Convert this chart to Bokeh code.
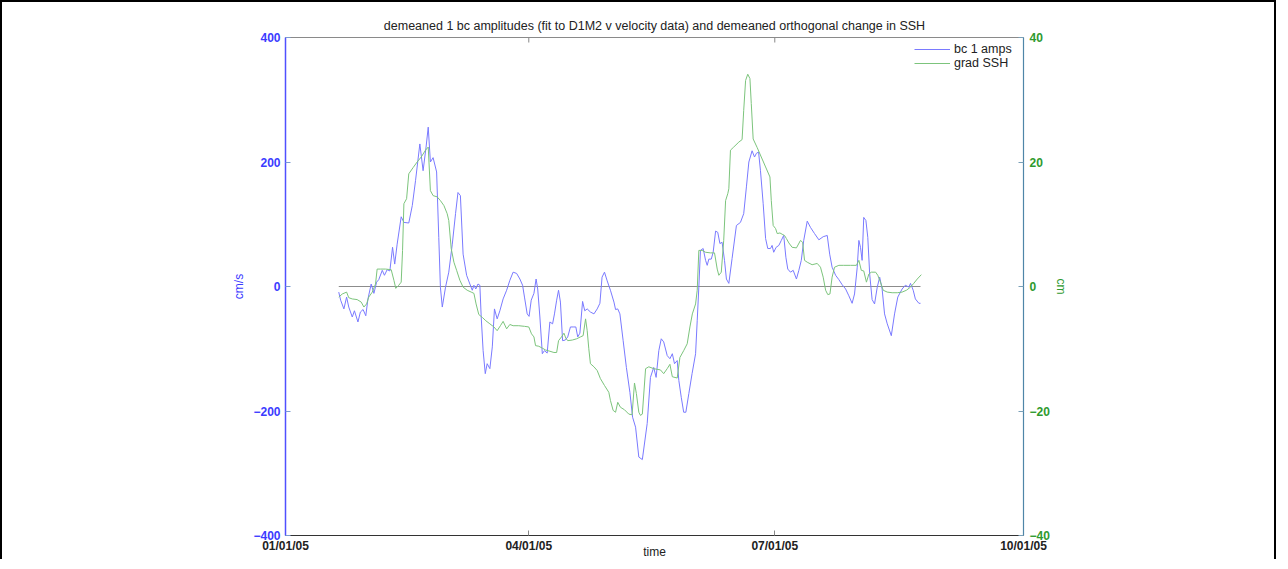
import pandas as pd
from bokeh.plotting import figure
from bokeh.models import (Range1d, LinearAxis, FixedTicker,
                          DatetimeTickFormatter, Legend, LegendItem)
from bokeh.embed import file_html
from bokeh.resources import INLINE

# ---------------- data (days since 2005-01-01) ----------------
title_text = "demeaned 1 bc amplitudes (fit to D1M2 v velocity data) and demeaned orthogonal change in SSH"
x_label = "time"
tick_dates = ["2005-01-01", "2005-04-01", "2005-07-01", "2005-10-01"]
left_ticks = [-400, -200, 0, 200, 400]
right_ticks = [-40, -20, 0, 20, 40]

bc_day = [19.7, 20.4, 21.6, 22.6, 23.4, 24.7, 25.5, 26.8, 27.7, 28.7,
          29.7, 30.5, 31.7, 32.7, 33.7, 34.5, 35.8, 36.6, 37.6, 38.6,
          39.6, 40.4, 41.3, 42.8, 43.8, 45.6, 46.9, 48.1, 49.7, 50.9,
          52.0, 52.8, 53.6, 54.6, 55.9, 56.7, 57.3, 58.0, 59.2, 60.4,
          61.7, 62.9, 63.8, 64.7, 65.7, 67.0, 68.2, 69.1, 69.7, 70.4,
          71.2, 71.9, 72.4, 73.1, 73.9, 74.6, 75.6, 76.5, 77.3, 78.3,
          79.3, 80.5, 81.8, 83.0, 84.2, 85.5, 86.7, 87.7, 88.4, 89.4,
          90.1, 90.9, 91.9, 92.7, 93.3, 94.1, 95.0, 95.8, 96.8, 97.8,
          98.8, 99.5, 100.3, 101.0, 101.7, 102.5, 103.5, 104.4, 105.4, 106.4,
          107.4, 108.1, 108.9, 109.9, 110.7, 111.6, 112.8, 114.1, 115.3, 116.3,
          117.1, 118.0, 119.0, 120.2, 121.5, 122.1, 122.9, 123.7, 124.9, 126.1,
          127.4, 128.4, 129.5, 130.7, 132.0, 133.8, 135.0, 136.2, 137.1, 138.1,
          139.0, 139.9, 141.2, 142.2, 143.1, 143.9, 144.9, 145.5, 146.4, 147.3,
          148.1, 149.2, 150.4, 151.7, 152.3, 152.9, 153.5, 154.5, 155.4, 156.0,
          156.6, 157.5, 158.2, 159.1, 159.9, 160.7, 161.5, 162.4, 163.1, 164.0,
          165.2, 166.8, 168.3, 169.5, 170.5, 171.4, 172.6, 173.5, 174.2, 175.0,
          175.7, 176.7, 177.6, 178.4, 179.4, 180.0, 180.6, 181.5, 182.5, 183.4,
          184.3, 185.1, 185.8, 186.8, 187.8, 189.0, 189.9, 190.8, 191.7, 193.0,
          194.2, 195.7, 197.3, 198.9, 200.4, 201.3, 202.2, 203.5, 204.7, 205.9,
          207.2, 208.4, 209.6, 210.5, 211.5, 212.1, 212.7, 213.3, 213.9, 214.7,
          215.4, 216.1, 217.0, 217.9, 218.9, 219.8, 220.7, 221.6, 222.6, 224.1,
          225.3, 226.5, 228.1, 229.3, 230.6, 231.2, 232.2, 233.0, 234.3, 234.9]
bc_amp = [-9, -22, -36, -17, -33, -49, -39, -57, -41, -37,
          -47, -20, 4, -11, 7, 11, 26, 18, 27, 25,
          63, 36, 68, 112, 103, 102, 130, 170, 229, 186,
          224, 256, 200, 207, 184, 79, -1, -33, -1, 23,
          68, 117, 151, 146, 52, 18, 4, -6, 2, -4,
          4, 2, -49, -103, -140, -124, -132, -97, -36, -52,
          -39, -20, -6, 10, 23, 21, 12, 2, -17, -44,
          -48, -22, -11, 12, -4, -49, -108, -103, -107, -57,
          -60, -44, -22, -6, -25, -87, -86, -81, -65, -65,
          -65, -81, -75, -24, -39, -36, -41, -44, -36, -27,
          15, 23, 9, -6, -25, -37, -36, -44, -87, -130,
          -170, -210, -226, -274, -278, -220, -146, -130, -146, -103,
          -84, -89, -111, -116, -108, -124, -119, -151, -178, -202,
          -202, -172, -140, -108, -55, -1, 58, 61, 42, 34,
          44, 44, 55, 89, 87, 69, 71, 42, 12, 5,
          45, 98, 103, 117, 160, 200, 218, 208, 214, 216,
          186, 133, 77, 61, 61, 66, 55, 63, 66, 74,
          82, 47, 28, 23, 26, 12, 26, 42, 74, 105,
          95, 85, 75, 80, 82, 52, 31, 18, 11, 3,
          -4, -15, -27, -12, 31, 74, 63, 42, 111, 106,
          79, 20, -21, -28, -1, 15, -4, -44, -60, -79,
          -44, -17, -4, 2, -1, 5, -6, -20, -27, -27]

ssh_day = [19.7, 21.0, 22.6, 23.4, 24.7, 26.5, 28.0, 29.0, 30.0, 30.8,
           32.1, 33.3, 33.9, 35.1, 37.0, 39.1, 40.1, 40.8, 41.9, 42.8,
           43.3, 43.8, 44.8, 45.6, 47.2, 48.7, 50.2, 51.8, 52.8, 53.6,
           54.6, 56.1, 57.3, 58.6, 59.8, 60.4, 61.3, 62.3, 63.3, 64.5,
           65.7, 67.2, 68.7, 69.7, 70.5, 71.5, 72.9, 74.1, 75.6, 77.1,
           78.3, 79.5, 80.5, 81.8, 83.0, 84.2, 86.3, 88.4, 90.0, 91.0,
           91.9, 92.5, 93.7, 95.0, 96.2, 97.8, 99.3, 100.3, 101.0, 102.1,
           103.0, 103.7, 104.4, 106.1, 107.7, 109.1, 110.1, 111.0, 111.6, 112.2,
           112.8, 114.1, 115.3, 116.5, 118.0, 119.6, 120.2, 121.2, 122.1, 122.9,
           123.9, 125.4, 127.0, 128.2, 129.1, 129.8, 130.7, 131.3, 132.0, 133.2,
           134.4, 136.2, 138.7, 139.9, 141.2, 142.2, 143.1, 144.9, 145.9, 147.3,
           148.6, 149.6, 150.5, 151.7, 152.3, 152.9, 154.1, 155.4, 157.2, 158.7,
           159.7, 160.3, 161.2, 162.1, 162.8, 163.6, 164.0, 164.6, 165.8, 167.7,
           168.9, 169.5, 170.2, 171.0, 171.8, 172.3, 173.0, 174.5, 176.0, 177.6,
           179.2, 179.7, 180.4, 181.3, 181.9, 182.9, 183.7, 184.6, 185.3, 186.2,
           187.4, 189.0, 190.5, 191.3, 192.0, 193.0, 194.8, 196.7, 197.9, 198.9,
           199.8, 200.6, 201.4, 202.2, 203.1, 204.7, 206.5, 209.0, 211.2, 212.1,
           213.0, 213.9, 214.9, 215.8, 216.7, 218.3, 219.1, 220.1, 221.1, 222.6,
           224.4, 226.3, 228.1, 229.7, 231.2, 232.4, 233.7, 235.2]
ssh_grad = [-1.7, -1.2, -0.9, -1.8, -2.0, -2.1, -2.5, -3.3, -2.8, -1.7,
            -0.9, 0.4, 2.8, 2.8, 2.8, 2.7, 1.0, -0.3, 0.2, 0.7,
            5.8, 13.3, 14.1, 18.1, 19.1, 20.0, 20.8, 21.9, 22.4, 15.4,
            14.6, 14.4, 13.8, 13.0, 11.7, 10.6, 6.1, 3.9, 2.6, 1.0,
            -0.1, -0.6, -0.9, -1.1, -2.8, -4.5, -5.0, -5.5, -6.0, -6.5,
            -7.1, -6.3, -5.6, -6.8, -6.1, -6.3, -6.3, -6.4, -6.5, -7.6,
            -8.1, -9.5, -9.6, -9.9, -10.2, -10.4, -10.6, -10.6, -8.7, -8.1,
            -7.5, -8.3, -8.7, -8.6, -8.4, -8.1, -7.9, -5.2, -7.1, -10.0,
            -12.4, -12.9, -13.5, -14.8, -15.9, -17.0, -18.3, -19.9, -20.2, -18.6,
            -19.4, -19.8, -20.5, -20.6, -15.5, -17.2, -20.2, -20.7, -20.5, -13.2,
            -12.9, -13.2, -13.4, -14.0, -13.2, -12.5, -14.5, -14.7, -11.4, -10.3,
            -9.2, -6.5, -4.4, -2.8, -0.6, 5.8, 5.8, 5.5, 5.4, 5.4,
            2.8, 1.8, 2.3, 7.4, 13.8, 14.9, 15.7, 21.9, 22.4, 23.2,
            23.6, 28.3, 33.1, 34.1, 33.4, 29.4, 23.7, 22.3, 20.8, 19.2,
            17.6, 13.8, 9.8, 9.3, 8.5, 8.6, 8.4, 8.2, 7.7, 7.0,
            6.3, 6.2, 7.4, 7.1, 4.2, 3.9, 3.5, 3.7, 3.1, 1.5,
            -0.6, -1.3, -1.2, 1.5, 3.1, 3.4, 3.4, 3.4, 3.4, 4.2,
            2.6, 2.5, 0.7, 2.0, 2.3, 2.3, 1.8, 0.7, -0.6, -0.9,
            -1.0, -1.0, -0.9, -0.6, -0.1, 0.5, 1.2, 1.9]

# ---------------- helpers ----------------
t0 = pd.Timestamp("2005-01-01")


def to_dt(days):
    return [t0 + pd.Timedelta(days=d) for d in days]


tick_ms = [pd.Timestamp(t).value // 10**6 for t in tick_dates]

BLUE = "#7a7aff"
GREEN = "#7cc47c"
FONT = "Liberation Sans"
FRAME_H = 498
Y_SPAN = left_ticks[-1] - left_ticks[0]

p = figure(width=1276, height=559, x_axis_type="datetime",
           output_backend="svg", toolbar_location=None,
           x_range=Range1d(tick_ms[0], tick_ms[-1]),
           y_range=Range1d(left_ticks[0], left_ticks[-1]),
           min_border_left=283, min_border_right=255,
           min_border_top=35, min_border_bottom=26)
p.styles = {"border-left": "2px solid black", "border-right": "2px solid black",
            "border-top": "2px solid black"}
p.xgrid.visible = False
p.ygrid.visible = False
p.outline_line_color = "#8a8a8a"
p.background_fill_color = "white"
p.border_fill_color = "white"

p.title.text = title_text
p.title.align = "center"
p.title.text_font = FONT
p.title.text_font_size = "12.5px"
p.title.text_font_style = "normal"
p.title.text_color = "#222222"
p.title.standoff = 10

p.extra_y_ranges = {"ssh": Range1d(right_ticks[0], right_ticks[-1])}

# zero line between the first and last sample
p.line(to_dt([bc_day[0], bc_day[-1]]), [0, 0], line_color="#8c8c8c", line_width=1)
r_bc = p.line(to_dt(bc_day), bc_amp, line_color=BLUE, line_width=1)
r_ssh = p.line(to_dt(ssh_day), ssh_grad, line_color=GREEN, line_width=1, y_range_name="ssh")

# inward tick marks along the top edge (at the interior date ticks)
top_tick_len = Y_SPAN * 5 / FRAME_H
p.segment(x0=tick_ms[1:-1], x1=tick_ms[1:-1],
          y0=[left_ticks[-1]] * 2, y1=[left_ticks[-1] - top_tick_len] * 2,
          line_color="#888888", line_width=1)

# bottom axis
xa = p.xaxis[0]
xa.ticker = FixedTicker(ticks=tick_ms)
fmt = "%m/%d/%y"
xa.formatter = DatetimeTickFormatter(days=fmt, months=fmt, years=fmt, hours=fmt,
                                     minutes=fmt, seconds=fmt, milliseconds=fmt,
                                     microseconds=fmt, hourmin=fmt, minsec=fmt)
xa.axis_label = x_label
xa.axis_label_text_font = FONT
xa.axis_label_text_font_size = "12px"
xa.axis_label_text_font_style = "normal"
xa.axis_label_text_color = "#222222"
xa.axis_label_standoff = -11
xa.major_label_text_font = FONT
xa.major_label_text_font_size = "12px"
xa.major_label_text_font_style = "bold"
xa.major_label_text_color = "#222222"
xa.major_label_standoff = 3
xa.major_tick_in = 5
xa.major_tick_out = 0
xa.major_tick_line_color = "#888888"
xa.minor_tick_line_color = None
xa.axis_line_color = "#333333"

# left axis
ya = p.yaxis[0]
ya.ticker = FixedTicker(ticks=left_ticks)
ya.axis_label = "cm/s"
ya.axis_label_text_color = "#3b3bff"
ya.axis_label_text_font = FONT
ya.axis_label_text_font_size = "12px"
ya.axis_label_text_font_style = "normal"
ya.axis_label_standoff = 4
ya.major_label_text_font = FONT
ya.major_label_text_font_size = "12px"
ya.major_label_text_font_style = "bold"
ya.major_label_text_color = "#3b3bff"
ya.major_label_standoff = 5
ya.major_tick_in = 5
ya.major_tick_out = 0
ya.major_tick_line_color = "#7a9ad0"
ya.minor_tick_line_color = None
ya.axis_line_color = "#5050ff"
ya.axis_line_width = 1.5

# right axis
ra = LinearAxis(y_range_name="ssh", ticker=FixedTicker(ticks=right_ticks),
                axis_label="cm", axis_label_text_color="#2e9a2e",
                axis_label_text_font=FONT, axis_label_text_font_size="12px",
                axis_label_text_font_style="normal", axis_label_standoff=1,
                major_label_text_font=FONT, major_label_text_font_size="12px",
                major_label_text_font_style="bold", major_label_text_color="#2e9a2e",
                major_label_standoff=6, major_tick_in=5, major_tick_out=0,
                major_tick_line_color="#7aa0b8", minor_tick_line_color=None,
                axis_line_color="#4f86a8", axis_line_width=1.2)
p.add_layout(ra, "right")

legend = Legend(items=[LegendItem(label="bc 1 amps", renderers=[r_bc]),
                       LegendItem(label="grad SSH", renderers=[r_ssh])],
                location=(626, FRAME_H - 36), label_text_font=FONT,
                label_text_font_size="12.5px",
                label_text_color="#222222", glyph_width=36, glyph_height=14,
                label_height=14, label_standoff=4, spacing=0, padding=3, margin=0,
                border_line_alpha=0, background_fill_alpha=0)
p.add_layout(legend)

open("out.html", "w").write(file_html(p, INLINE))
